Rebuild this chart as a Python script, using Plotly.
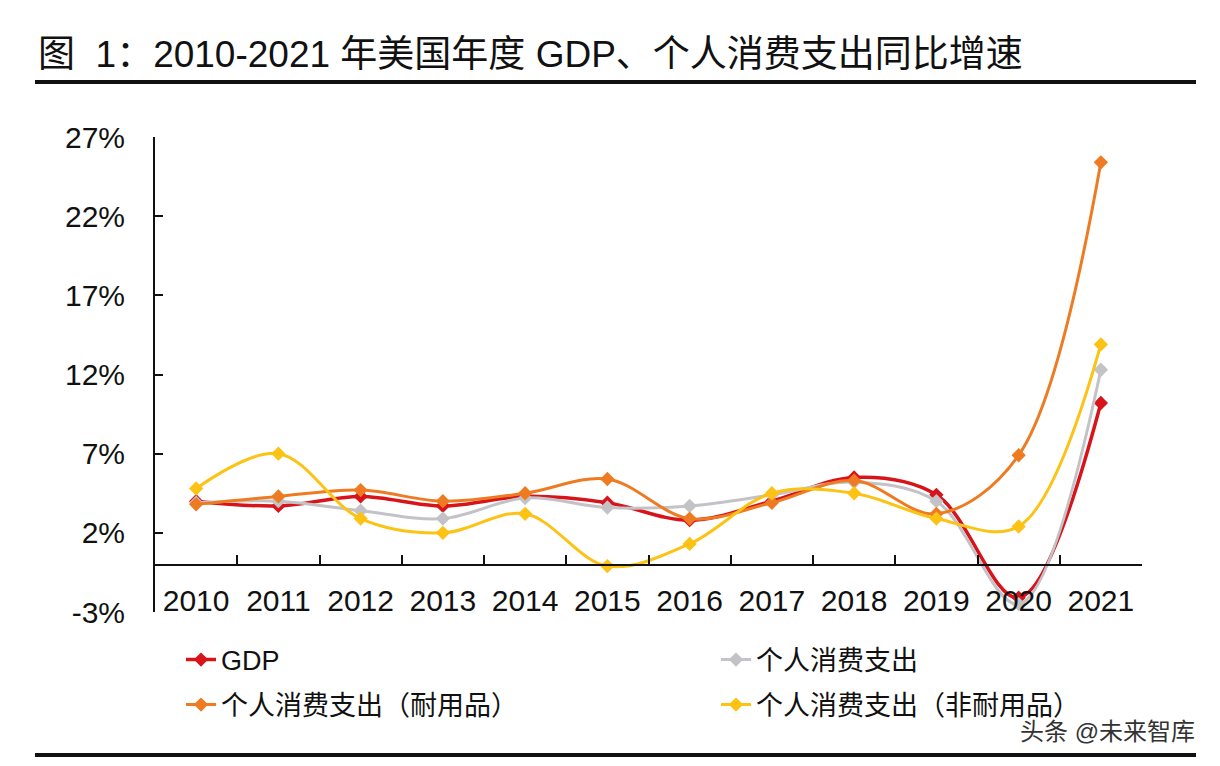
import plotly.graph_objects as go

years = ["2010", "2011", "2012", "2013", "2014", "2015", "2016", "2017", "2018", "2019", "2020", "2021"]
gdp = [4.0, 3.7, 4.3, 3.7, 4.3, 3.9, 2.8, 4.0, 5.5, 4.4, -2.1, 10.2]
pce = [3.9, 4.0, 3.4, 2.9, 4.2, 3.6, 3.7, 4.4, 5.2, 4.0, -2.5, 12.3]
pce_durable = [3.8, 4.3, 4.7, 4.0, 4.5, 5.4, 2.9, 3.9, 5.3, 3.2, 6.9, 25.4]
pce_nondurable = [4.8, 7.0, 2.9, 2.0, 3.2, -0.1, 1.3, 4.5, 4.5, 2.9, 2.4, 13.9]

series_names = ["GDP", "个人消费支出", "个人消费支出（耐用品）", "个人消费支出（非耐用品）"]
series_values = [gdp, pce, pce_durable, pce_nondurable]
series_colors = ["#D7141A", "#C3C3C7", "#EE7B22", "#FCC214"]
series_widths = [3.5, 3, 3, 3]
series_legend = ["legend", "legend2", "legend3", "legend4"]

ytick_vals = [-3, 2, 7, 12, 17, 22, 27]
ytick_text = ["-3%", "2%", "7%", "12%", "17%", "22%", "27%"]

title_text = "图  1：2010-2021 年美国年度 GDP、个人消费支出同比增速"
watermark = "头条 @未来智库"

FONT = "Liberation Sans, Arial, Noto Sans CJK SC, sans-serif"

# page body has an 8px margin, so the figure is drawn 8px smaller and offset
OFF = 8
W, H = 1220 - OFF, 766 - OFF
# plot-area edges in reference-page pixels
left, right, top, bottom = 155, 1142, 137, 612
ymin, ymax = -3, 27


def px_x(px):
    return (px - left) / (right - left)


def px_y(py):
    return (bottom - py) / (bottom - top)


fig = go.Figure()
for name, vals, col, lw, lg in zip(series_names, series_values, series_colors, series_widths, series_legend):
    fig.add_trace(go.Scatter(
        x=years, y=vals, name=name, mode="lines+markers", legend=lg,
        line=dict(color=col, width=lw, shape="spline", smoothing=1.0),
        marker=dict(symbol="diamond", size=11, color=col),
    ))

zero_pos = (0 - ymin) / (ymax - ymin)

legend_common = dict(
    orientation="h", xanchor="left", yanchor="middle",
    font=dict(family=FONT, size=27, color="#111111"),
    bgcolor="rgba(0,0,0,0)",
)

fig.update_layout(
    width=W, height=H, autosize=False,
    margin=dict(l=left - OFF, r=W - (right - OFF), t=top - OFF, b=H - (bottom - OFF), autoexpand=False),
    paper_bgcolor="white", plot_bgcolor="white",
    font=dict(family=FONT, size=27, color="#111111"),
    showlegend=True,
    legend=dict(x=px_x(181), y=px_y(660), **legend_common),
    legend2=dict(x=px_x(716), y=px_y(660), **legend_common),
    legend3=dict(x=px_x(181), y=px_y(705), **legend_common),
    legend4=dict(x=px_x(716), y=px_y(705), **legend_common),
    xaxis=dict(
        type="category", range=[-0.5, 11.5],
        anchor="free", position=zero_pos, automargin=False,
        showline=True, linecolor="#111111", linewidth=2,
        ticks="inside", ticklen=9, tickwidth=2, tickcolor="#111111",
        tickson="boundaries", showgrid=False, zeroline=False,
        tickfont=dict(family=FONT, size=30, color="#111111"),
        ticklabelstandoff=9,
    ),
    yaxis=dict(
        range=[ymin, ymax], tickvals=ytick_vals, ticktext=ytick_text,
        automargin=False,
        showline=True, linecolor="#111111", linewidth=2,
        ticks="inside", ticklen=8, tickwidth=2, tickcolor="#111111",
        showgrid=False, zeroline=False,
        tickfont=dict(family=FONT, size=30, color="#111111"),
        ticklabelstandoff=22,
    ),
)

fig.add_annotation(
    text=title_text, xref="paper", yref="paper",
    x=px_x(36), y=px_y(55),
    xanchor="left", yanchor="middle", showarrow=False,
    font=dict(family=FONT, size=37, color="#111111"),
)
fig.add_annotation(
    text=watermark, xref="paper", yref="paper",
    x=px_x(1197), y=px_y(731),
    xanchor="right", yanchor="middle", showarrow=False,
    font=dict(family=FONT, size=24, color="#333333"),
)

fig.add_shape(type="line", xref="paper", yref="paper",
              x0=px_x(35), x1=px_x(1196), y0=px_y(82), y1=px_y(82),
              line=dict(color="#111111", width=4))
fig.add_shape(type="line", xref="paper", yref="paper",
              x0=px_x(35), x1=px_x(1196), y0=px_y(755), y1=px_y(755),
              line=dict(color="#111111", width=4))

fig.write_html("out.html")
